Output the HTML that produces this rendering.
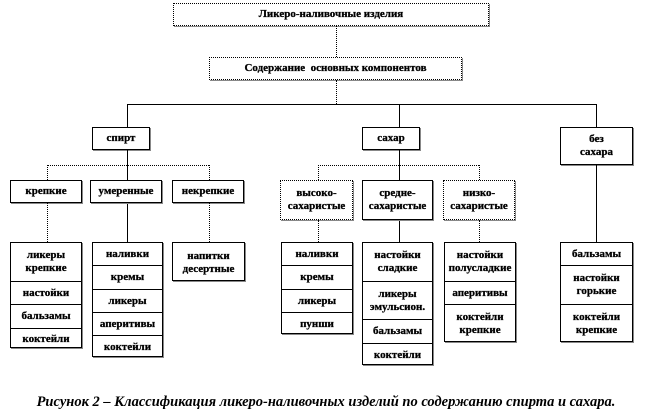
<!DOCTYPE html>
<html><head><meta charset="utf-8"><style>
body{margin:0;width:652px;height:413px;background:#fff;position:relative;overflow:hidden;font-family:"Liberation Serif",serif;}
.b{position:absolute;box-sizing:border-box;border:1px solid #000;background:#fff;box-shadow:1px 1px 0 #888;display:flex;align-items:center;justify-content:center;text-align:center;font-weight:bold;font-size:11px;line-height:13px;color:#000;}
.d{border:1px dotted #000;}
.l{position:absolute;background:#000;}
.v{position:absolute;border-left:1px dotted #000;}
.h{position:absolute;border-top:1px dotted #000;}
.cap{position:absolute;left:0;width:652px;top:394px;text-align:center;font-weight:bold;font-style:italic;font-size:14.5px;white-space:nowrap;}
.col{position:absolute;box-sizing:border-box;border:1px solid #000;box-shadow:1px 1px 0 #888;background:#fff;}
.col div{position:absolute;left:0;right:0;display:flex;align-items:center;justify-content:center;text-align:center;font-weight:bold;font-size:11px;line-height:13px;box-sizing:border-box;}
.col div+div{border-top:1px solid #000;}
.b,.col div{-webkit-text-stroke:0.3px #000;}
</style></head><body>
<div class="b d" style="left:173px;top:3px;width:316px;height:23px">Ликеро-наливочные изделия</div>
<div class="v" style="left:336px;top:26px;height:31px"></div>
<div class="b d" style="left:209px;top:57px;width:253px;height:23px">Содержание&nbsp; основных компонентов</div>
<div class="v" style="left:336px;top:80px;height:24px"></div>
<div class="l" style="left:127px;top:104px;width:470px;height:1px"></div>
<div class="l" style="left:127px;top:104px;width:1px;height:23px"></div>
<div class="l" style="left:399px;top:104px;width:1px;height:23px"></div>
<div class="l" style="left:596px;top:104px;width:1px;height:23px"></div>
<div class="b" style="left:92px;top:127px;width:58px;height:23px">спирт</div>
<div class="b" style="left:362px;top:127px;width:58px;height:23px">сахар</div>
<div class="b" style="left:560px;top:127px;width:73px;height:38px">без<br>сахара</div>
<div class="l" style="left:127px;top:150px;width:1px;height:92px"></div>
<div class="l" style="left:399px;top:150px;width:1px;height:92px"></div>
<div class="l" style="left:596px;top:165px;width:1px;height:77px"></div>
<div class="h" style="left:47px;top:165px;width:162px"></div>
<div class="v" style="left:47px;top:165px;height:15px"></div>
<div class="v" style="left:209px;top:165px;height:15px"></div>
<div class="h" style="left:318px;top:165px;width:161px"></div>
<div class="v" style="left:318px;top:165px;height:15px"></div>
<div class="v" style="left:479px;top:165px;height:15px"></div>
<div class="b" style="left:10px;top:180px;width:72px;height:23px">крепкие</div>
<div class="b" style="left:90px;top:180px;width:72px;height:23px">умеренные</div>
<div class="b" style="left:172px;top:180px;width:72px;height:23px">некрепкие</div>
<div class="b d" style="left:280px;top:180px;width:73px;height:40px">высоко-<br>сахаристые</div>
<div class="b" style="left:362px;top:180px;width:71px;height:40px">средне-<br>сахаристые</div>
<div class="b d" style="left:443px;top:180px;width:72px;height:40px">низко-<br>сахаристые</div>
<div class="v" style="left:47px;top:203px;height:39px"></div>
<div class="v" style="left:209px;top:203px;height:39px"></div>
<div class="v" style="left:318px;top:220px;height:22px"></div>
<div class="v" style="left:479px;top:220px;height:22px"></div>

<div class="col" style="left:10px;top:242px;width:72px;height:106px">
<div style="top:0;height:38px">ликеры<br>крепкие</div><div style="top:38px;height:23px">настойки</div><div style="top:61px;height:24px">бальзамы</div><div style="top:85px;height:21px">коктейли</div></div>
<div class="col" style="left:92px;top:242px;width:71px;height:115px">
<div style="top:0;height:22px">наливки</div><div style="top:22px;height:24px">кремы</div><div style="top:46px;height:23px">ликеры</div><div style="top:69px;height:23px">аперитивы</div><div style="top:92px;height:23px">коктейли</div></div>
<div class="col" style="left:172px;top:242px;width:73px;height:39px">
<div style="top:0;height:39px">напитки<br>десертные</div></div>
<div class="col" style="left:281px;top:242px;width:72px;height:92px">
<div style="top:0;height:22px">наливки</div><div style="top:22px;height:24px">кремы</div><div style="top:46px;height:23px">ликеры</div><div style="top:69px;height:23px">пунши</div></div>
<div class="col" style="left:362px;top:242px;width:71px;height:123px">
<div style="top:0;height:38px">настойки<br>сладкие</div><div style="top:38px;height:38px">ликеры<br>эмульсион.</div><div style="top:76px;height:24px">бальзамы</div><div style="top:100px;height:23px">коктейли</div></div>
<div class="col" style="left:444px;top:242px;width:72px;height:100px">
<div style="top:0;height:38px">настойки<br>полусладкие</div><div style="top:38px;height:23px">аперитивы</div><div style="top:61px;height:39px">коктейли<br>крепкие</div></div>
<div class="col" style="left:560px;top:242px;width:73px;height:100px">
<div style="top:0;height:22px">бальзамы</div><div style="top:22px;height:39px">настойки<br>горькие</div><div style="top:61px;height:39px">коктейли<br>крепкие</div></div>

<div class="cap">Рисунок 2 – Классификация ликеро-наливочных изделий по содержанию спирта и сахара.</div>
</body></html>
